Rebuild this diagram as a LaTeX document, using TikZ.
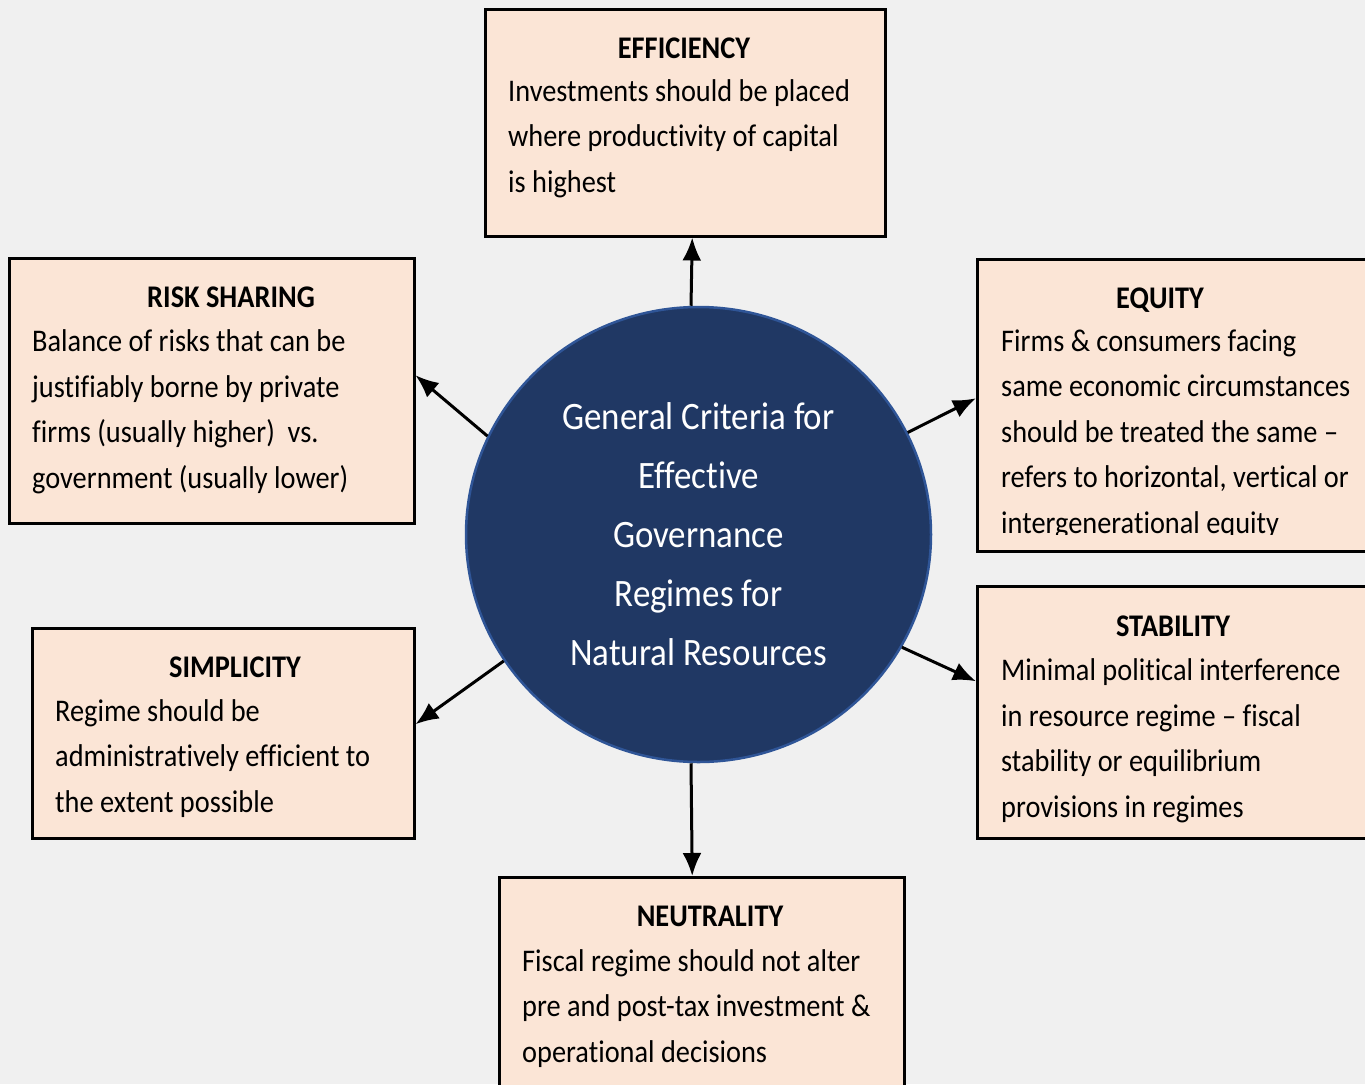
\documentclass[tikz,border=0pt]{standalone}
\usepackage{fontspec}
\setmainfont{Carlito}[FakeStretch=0.90, Ligatures=CommonOff]
\usetikzlibrary{positioning, arrows.meta, shapes.geometric}

\definecolor{bggray}{HTML}{F0F0F0}
\definecolor{cardfill}{HTML}{FBE5D6}
\definecolor{hubfill}{HTML}{203864}
\definecolor{hubline}{HTML}{2F5597}

\tikzset{
	card/.style={rectangle, draw=black, line width=2.5pt, fill=cardfill, anchor=north west, inner sep=0},
	head/.style={font=\fontsize{31.5}{45.5}\selectfont\bfseries, anchor=base, inner sep=0},
	% multi-line texts sit on the baseline of their last line
	body/.style={font=\fontsize{31.5}{45.5}\selectfont, align=left, anchor=base west, inner sep=0},
	arr/.style={line width=3pt, -{Latex[length=23pt,width=19pt]}}
}

\begin{document}
\begin{tikzpicture}[x=1pt, y=-1pt]
			\clip (0,0) rectangle (1365,1084);
			\fill[bggray] (0,0) rectangle (1365,1084);
			
			% centre circle
			\node[ellipse, fill=hubfill, draw=hubline, line width=2.5pt, minimum width=465pt, minimum height=455pt, inner sep=0,
				text=white, align=center, font=\fontsize{38.8}{59}\selectfont] (hub) at (698.5,534.5)
				{General Criteria for\\Effective\\Governance\\Regimes for\\Natural Resources};
			
			% boxes
			\node[card, minimum width=400pt, minimum height=227pt] (eff) at (484,8) {};
			\node[card, minimum width=405pt, minimum height=265pt] (risk) at (8,257) {};
			\node[card, minimum width=420pt, minimum height=292pt] (equity) at (976,258) {};
			\node[card, minimum width=382pt, minimum height=210pt] (simp) at (31,627) {};
			\node[card, minimum width=420pt, minimum height=252pt] (stab) at (976,585) {};
			\node[card, minimum width=405pt, minimum height=240pt] (neut) at (498,876) {};
			
			% titles
			\node[head] (effhead) at (684,58) {EFFICIENCY};
			\node[head] (riskhead) at (231,307) {RISK SHARING};
			\node[head] (equityhead) at (1160,308) {EQUITY};
			\node[head] (simphead) at (235,677) {SIMPLICITY};
			\node[head] (stabhead) at (1173,636) {STABILITY};
			\node[head] (neuthead) at (710,926) {NEUTRALITY};
			
			% texts
			\node[body] (efftext) at (508,192) {Investments should be placed\\where productivity of capital\\is highest};
			\node[body] (risktext) at (32,488) {Balance of risks that can be\\justifiably borne by private\\firms (usually higher)\ \ vs.\\government (usually lower)};
			\begin{scope}
				\clip (976,258) rectangle (1365,534);
				\node[body] (equitytext) at (1001,533) {Firms \& consumers facing\\same economic circumstances\\should be treated the same --\\refers to horizontal, vertical or\\intergenerational equity};
			\end{scope}
			\node[body] (simptext) at (55,812) {Regime should be\\administratively efficient to\\the extent possible};
			\node[body] (stabtext) at (1001,817) {Minimal political interference\\in resource regime -- fiscal\\stability or equilibrium\\provisions in regimes};
			\node[body] (neuttext) at (522,1062) {Fiscal regime should not alter\\pre and post-tax investment \&\\operational decisions};
			
			% arrows
			\draw[arr] ([xshift=-7.5pt]hub.north) -- ([xshift=7pt]eff.south);
			\draw[arr] (hub.155) -- ([yshift=15.5pt]risk.east);
			\draw[arr] (hub.26) -- ([yshift=7pt]equity.west);
			\draw[arr] (hub.-29) -- ([yshift=31pt]stab.west);
			\draw[arr] (hub.213) -- ([yshift=9pt]simp.east);
			\draw[arr] ([xshift=-7.5pt]hub.south) -- ([xshift=-9.5pt]neut.north);
\end{tikzpicture}
\end{document}
